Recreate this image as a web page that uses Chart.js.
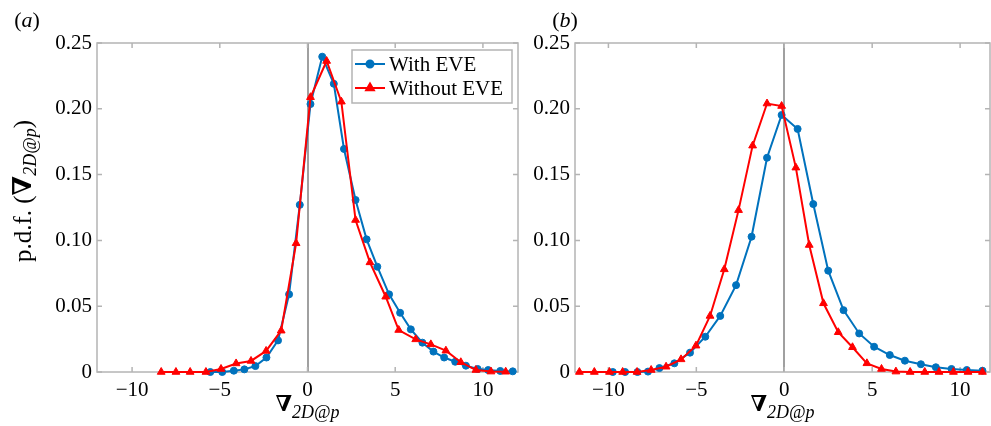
<!DOCTYPE html>
<html>
<head>
<meta charset="utf-8">
<script src="https://cdn.jsdelivr.net/npm/chart.js@4.4.1/dist/chart.umd.min.js"></script>
<style>
  body { margin: 0; background: #fff; overflow: hidden; }
  .panel { position: absolute; top: 0; height: 426px; }
  #panelA { left: 0; width: 530px; }
  #panelB { left: 530px; width: 466px; }
</style>
</head>
<body>
<div class="panel" id="panelA"><canvas id="chartA"></canvas></div>
<div class="panel" id="panelB"><canvas id="chartB"></canvas></div>
<script>
const xTicks = [-10, -5, 0, 5, 10];
const yTicks = [0, 0.05, 0.1, 0.15, 0.2, 0.25];
const seriesLabels = ['With EVE', 'Without EVE'];

// panel (a)
const aWithX = [-5.54, -4.86, -4.2, -3.6, -2.97, -2.34, -1.68, -1.05, -0.44, 0.17, 0.84, 1.5, 2.08, 2.74, 3.37, 3.98, 4.65, 5.28, 5.89, 6.55, 7.18, 7.79, 8.42, 9.03, 9.7, 10.3, 10.99, 11.7];
const aWithY = [0, 0, 0.001, 0.002, 0.0045, 0.011, 0.024, 0.059, 0.127, 0.2036, 0.2396, 0.219, 0.1695, 0.1307, 0.1008, 0.08, 0.059, 0.045, 0.0324, 0.0223, 0.0155, 0.011, 0.0078, 0.0048, 0.0023, 0.0015, 0.0008, 0.0005];
const aWithoutX = [-8.34, -7.5, -6.69, -5.79, -4.93, -4.07, -3.22, -2.36, -1.5, -0.65, 0.17, 1.09, 1.93, 2.74, 3.56, 4.46, 5.2, 6.17, 7.03, 7.89, 8.74, 9.6, 10.46, 11.3];
const aWithoutY = [0, 0, 0, 0, 0.0023, 0.0065, 0.0084, 0.016, 0.0314, 0.0978, 0.2088, 0.2363, 0.2054, 0.1155, 0.0833, 0.0572, 0.0319, 0.0248, 0.021, 0.0162, 0.0074, 0.0015, 0.0003, 0.0002];

// panel (b)
const bWithX = [-9.75, -9.05, -8.35, -7.75, -7.1, -6.25, -5.36, -4.49, -3.64, -2.74, -1.86, -0.98, -0.15, 0.76, 1.65, 2.5, 3.37, 4.26, 5.11, 6.0, 6.86, 7.77, 8.62, 9.51, 10.38, 11.27];
const bWithY = [0, 0, 0, 0.0003, 0.003, 0.0066, 0.0147, 0.0268, 0.0426, 0.066, 0.1028, 0.1628, 0.1953, 0.1847, 0.1276, 0.077, 0.047, 0.0293, 0.0192, 0.0129, 0.0086, 0.0059, 0.0036, 0.0023, 0.0015, 0.001];
const bWithoutX = [-11.65, -10.8, -9.94, -9.19, -8.37, -7.57, -6.72, -5.87, -5.02, -4.22, -3.41, -2.6, -1.8, -0.98, -0.15, 0.66, 1.42, 2.23, 3.07, 3.88, 4.7, 5.53, 6.35, 7.16, 7.99, 8.8, 9.62, 10.45, 11.27];
const bWithoutY = [0, 0, 0, 0, 0, 0.0015, 0.004, 0.0096, 0.02, 0.0426, 0.078, 0.123, 0.172, 0.204, 0.2021, 0.1553, 0.0965, 0.0522, 0.0302, 0.0188, 0.0066, 0.0023, 0.0003, 0, 0, 0, 0, 0, 0];

const BLUE = '#0072bd';
const RED = '#ff0000';
const FRAME = '#b4b4b4';
const SERIF = "'Liberation Serif', 'DejaVu Serif', serif";

function toPoints(xs, ys) {
  return xs.map((x, i) => ({ x: x, y: ys[i] }));
}

function drawRich(ctx, cx, y, segs) {
  let total = 0;
  segs.forEach((s) => {
    ctx.font = s.font;
    s.w = ctx.measureText(s.t).width;
    total += s.w;
  });
  let x = cx - total / 2;
  ctx.textAlign = 'left';
  ctx.textBaseline = 'alphabetic';
  segs.forEach((s) => {
    ctx.font = s.font;
    ctx.fillText(s.t, x, y + (s.dy || 0));
    x += s.w;
  });
}

const decorPlugin = {
  id: 'decor',
  beforeDatasetsDraw(chart) {
    const ctx = chart.ctx;
    const a = chart.chartArea;
    const xs = chart.scales.x;
    const ys = chart.scales.y;
    ctx.save();
    ctx.strokeStyle = FRAME;
    ctx.lineWidth = 1.5;
    ctx.strokeRect(a.left, a.top, a.right - a.left, a.bottom - a.top);
    ctx.beginPath();
    xTicks.forEach((v) => {
      const px = xs.getPixelForValue(v);
      if (px < a.left || px > a.right) return;
      ctx.moveTo(px, a.top); ctx.lineTo(px, a.top + 5);
      ctx.moveTo(px, a.bottom); ctx.lineTo(px, a.bottom - 5);
    });
    yTicks.forEach((v) => {
      const py = ys.getPixelForValue(v);
      ctx.moveTo(a.left, py); ctx.lineTo(a.left + 5, py);
      ctx.moveTo(a.right, py); ctx.lineTo(a.right - 5, py);
    });
    ctx.stroke();
    ctx.restore();
  },
  afterDraw(chart) {
    const ctx = chart.ctx;
    const a = chart.chartArea;
    const opts = chart.options.plugins.decor;
    ctx.save();
    ctx.fillStyle = '#000';

    // panel letter
    drawRich(ctx, opts.labelX, 27, [
      { t: '(', font: `22px ${SERIF}` },
      { t: opts.letter, font: `italic 22px ${SERIF}` },
      { t: ')', font: `22px ${SERIF}` }
    ]);

    // x axis title
    drawRich(ctx, (a.left + a.right) / 2, 411, [
      { t: '∇', font: `bold 22px ${SERIF}` },
      { t: '2D@p', font: `italic 18px ${SERIF}`, dy: 7 }
    ]);

    // y axis title
    if (opts.yTitle) {
      ctx.save();
      ctx.translate(31, 191);
      ctx.rotate(-Math.PI / 2);
      drawRich(ctx, 0, 0, [
        { t: 'p.d.f. (', font: `25px ${SERIF}` },
        { t: '∇', font: `bold 26px ${SERIF}` },
        { t: '2D@p', font: `italic 18px ${SERIF}`, dy: 5 },
        { t: ')', font: `25px ${SERIF}` }
      ]);
      ctx.restore();
    }

    // legend
    if (opts.legend) {
      const box = opts.legend;
      ctx.fillStyle = '#fff';
      ctx.fillRect(box.x, box.y, box.w, box.h);
      ctx.strokeStyle = FRAME;
      ctx.lineWidth = 1.5;
      ctx.strokeRect(box.x, box.y, box.w, box.h);
      chart.data.datasets.forEach((ds, i) => {
        const ly = box.y + 14 + i * 24;
        ctx.strokeStyle = ds.borderColor;
        ctx.lineWidth = 2;
        ctx.beginPath();
        ctx.moveTo(box.x + 3, ly);
        ctx.lineTo(box.x + 33, ly);
        ctx.stroke();
        ctx.fillStyle = ds.borderColor;
        Chart.helpers.drawPoint(ctx, {
          pointStyle: ds.pointStyle,
          radius: ds.pointRadius,
          rotation: 0,
          borderWidth: 1
        }, box.x + 18, ly);
        ctx.fillStyle = '#000';
        ctx.font = `21px ${SERIF}`;
        ctx.textAlign = 'left';
        ctx.textBaseline = 'alphabetic';
        ctx.fillText(ds.label, box.x + 37, ly + 7);
      });
    }
    ctx.restore();
  }
};

function createPanel(canvasId, withPts, withoutPts, cfg) {
  return new Chart(document.getElementById(canvasId), {
    type: 'line',
    data: {
      datasets: [{
        label: seriesLabels[0],
        data: withPts,
        borderColor: BLUE,
        backgroundColor: BLUE,
        borderWidth: 2,
        pointStyle: 'circle',
        pointRadius: 3.5,
        pointBorderWidth: 1,
        tension: 0,
        clip: false,
        order: 1
      }, {
        label: seriesLabels[1],
        data: withoutPts,
        borderColor: RED,
        backgroundColor: RED,
        borderWidth: 2,
        pointStyle: 'triangle',
        pointRadius: 4.5,
        pointBorderWidth: 1,
        tension: 0,
        clip: false,
        order: 0
      }]
    },
    options: {
      responsive: true,
      maintainAspectRatio: false,
      animation: false,
      devicePixelRatio: 1,
      events: [],
      layout: { padding: { left: 0, right: cfg.padRight, top: 43, bottom: 0 } },
      plugins: {
        legend: { display: false },
        tooltip: { enabled: false },
        decor: cfg.decor
      },
      scales: {
        x: {
          type: 'linear',
          min: cfg.xMin,
          max: cfg.xMax,
          afterBuildTicks: (s) => { s.ticks = xTicks.map((v) => ({ value: v })); },
          afterFit: (s) => { s.height = 54; },
          grid: {
            drawTicks: false,
            lineWidth: 2,
            color: (c) => (c.tick && c.tick.value === 0 ? '#a0a0a0' : 'rgba(0,0,0,0)')
          },
          border: { display: false },
          ticks: {
            padding: 6,
            color: '#000',
            font: { family: SERIF, size: 21 },
            callback: (v) => (v < 0 ? '\u2212' + Math.abs(v) : String(v))
          }
        },
        y: {
          type: 'linear',
          min: 0,
          max: 0.25,
          afterBuildTicks: (s) => { s.ticks = yTicks.map((v) => ({ value: v })); },
          afterFit: (s) => { s.width = cfg.yWidth; },
          grid: { display: false, drawTicks: false },
          border: { display: false },
          ticks: {
            padding: 5,
            color: '#000',
            font: { family: SERIF, size: 21 },
            callback: (v) => (v === 0 ? '0' : v.toFixed(2))
          }
        }
      }
    },
    plugins: [decorPlugin]
  });
}

createPanel('chartA', toPoints(aWithX, aWithY), toPoints(aWithoutX, aWithoutY), {
  xMin: -12, xMax: 12, yWidth: 97, padRight: 12,
  decor: { letter: 'a', labelX: 27, yTitle: true, legend: { x: 352, y: 50, w: 160, h: 53 } }
});

createPanel('chartB', toPoints(bWithX, bWithY), toPoints(bWithoutX, bWithoutY), {
  xMin: -11.9, xMax: 11.7, yWidth: 45, padRight: 6,
  decor: { letter: 'b', labelX: 35, yTitle: false, legend: null }
});
</script>
</body>
</html>
